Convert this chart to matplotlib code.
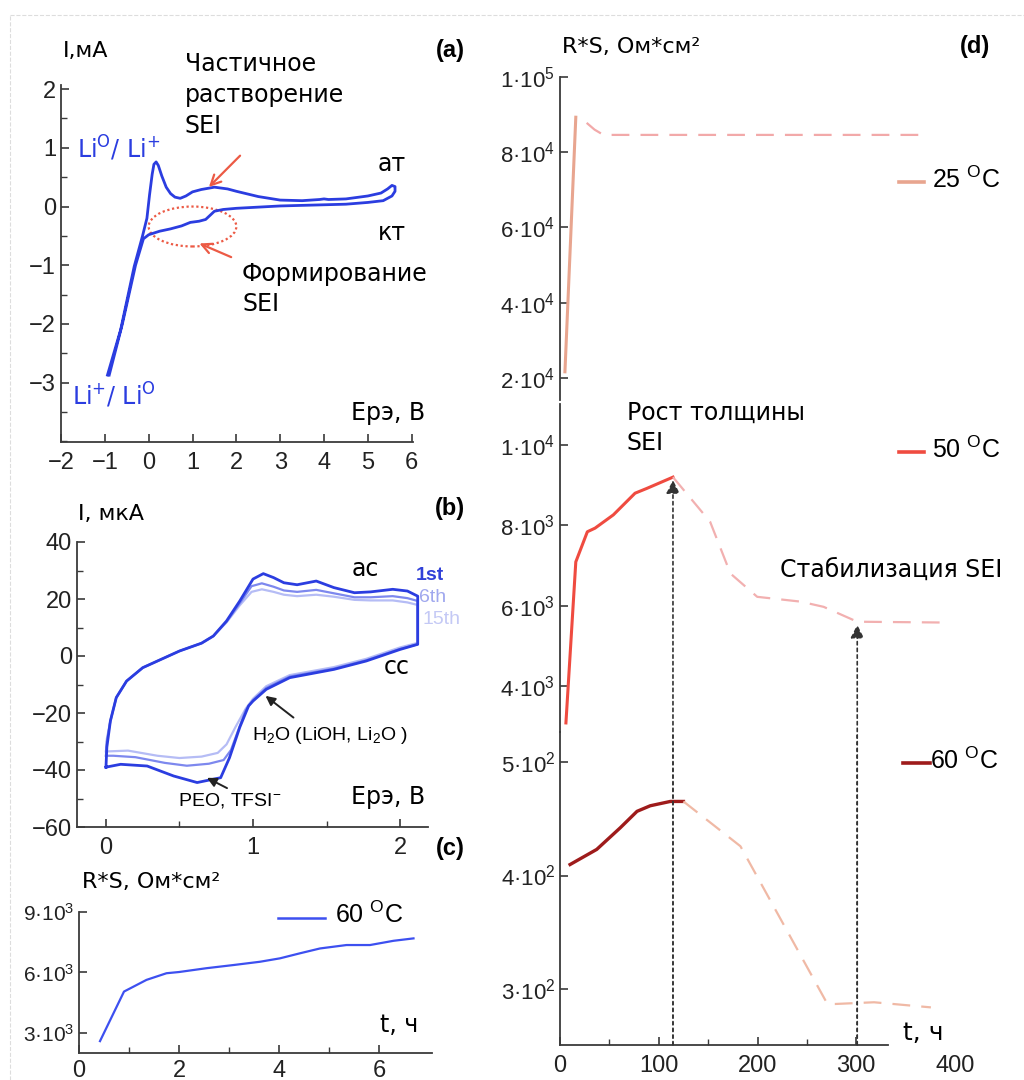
import matplotlib.pyplot as plt
import numpy as np
from matplotlib.patches import Ellipse, ConnectionPatch
from matplotlib.ticker import MultipleLocator, FixedLocator

plt.rcParams['font.family'] = ['Liberation Sans', 'DejaVu Sans']
plt.rcParams['mathtext.default'] = 'regular'

W, H = 1024, 1080
CYR = ['DejaVu Sans']

# (a) CV curve, I (mA) vs E (V)
a_E = [-0.94, -0.64, -0.33, -0.14, -0.04, 0.02, 0.08, 0.12, 0.17, 0.22, 0.3, 0.4, 0.5, 0.6, 0.72, 0.85,
       1.0, 1.2, 1.5, 1.8, 2.0, 2.5, 3.0, 3.5, 3.9, 4.0, 4.1, 4.5, 5.0, 5.3, 5.45, 5.55, 5.62, 5.62,
       5.55, 5.35, 5.0, 4.5, 4.0, 3.0, 2.0, 1.7, 1.5, 1.4, 1.3, 1.15, 0.95, 0.75, 0.5, 0.25, 0.0,
       -0.12, -0.3, -0.6, -0.9]
a_I = [-2.87, -2.1, -1.02, -0.5, -0.2, 0.2, 0.55, 0.72, 0.76, 0.7, 0.52, 0.33, 0.22, 0.16, 0.14, 0.18,
       0.25, 0.29, 0.33, 0.3, 0.26, 0.17, 0.11, 0.1, 0.12, 0.13, 0.12, 0.13, 0.18, 0.23, 0.3, 0.36, 0.34,
       0.26, 0.18, 0.1, 0.07, 0.04, 0.03, 0.01, -0.03, -0.05, -0.08, -0.15, -0.22, -0.25, -0.27, -0.33,
       -0.38, -0.42, -0.48, -0.55, -1.0, -2.0, -2.87]

# (b) CV cycles, I (uA) vs E (V)
b1_E = [0.0, 0.006, 0.03, 0.07, 0.14, 0.25, 0.5, 0.65, 0.73, 0.82, 0.91, 1.0, 1.07, 1.14, 1.21, 1.3,
        1.43, 1.55, 1.69, 1.8, 1.95, 2.05, 2.12, 2.12, 2.0, 1.77, 1.55, 1.25, 1.09, 1.0, 0.97, 0.91,
        0.84, 0.78, 0.62, 0.46, 0.28, 0.1, 0.0]
b1_I = [-39, -32, -22.8, -14.6, -8.8, -4.1, 1.75, 4.5, 7.0, 12.3, 19.3, 27.0, 28.9, 27.5, 25.7, 25.0,
        26.3, 24.0, 22.2, 22.5, 23.4, 22.8, 21.0, 4.1, 2.3, -1.75, -4.7, -7.6, -11.7, -15.8, -17.5, -25,
        -35.7, -42.7, -44.4, -42.1, -38.6, -38, -39]
b6_E = [0.0, 0.006, 0.03, 0.07, 0.14, 0.25, 0.5, 0.65, 0.73, 0.82, 0.91, 0.99, 1.06, 1.14, 1.21, 1.3,
        1.43, 1.55, 1.69, 1.8, 1.95, 2.05, 2.12, 2.12, 2.0, 1.77, 1.55, 1.25, 1.09, 1.0, 0.95, 0.9,
        0.85, 0.8, 0.7, 0.55, 0.4, 0.2, 0.05, 0.0]
b6_I = [-35, -30, -22.8, -14.6, -8.8, -4.1, 1.75, 4.5, 7.0, 12.0, 18.5, 24.5, 25.5, 24.3, 23.0, 22.5,
        23.2, 22.0, 20.6, 20.6, 21.0, 20.3, 19.3, 4.1, 2.5, -1.5, -4.4, -7.2, -11.2, -15.5, -19, -26,
        -33, -36.5, -37.8, -38.5, -37.5, -35.5, -35, -35]
b15_E = [0.0, 0.006, 0.03, 0.07, 0.14, 0.25, 0.5, 0.65, 0.73, 0.82, 0.91, 0.99, 1.06, 1.14, 1.21, 1.3,
         1.43, 1.55, 1.69, 1.8, 1.95, 2.05, 2.12, 2.12, 2.0, 1.77, 1.55, 1.25, 1.09, 1.0, 0.95, 0.88,
         0.82, 0.76, 0.65, 0.5, 0.35, 0.15, 0.0]
b15_I = [-33.5, -29, -22.8, -14.6, -8.8, -4.1, 1.75, 4.5, 7.0, 11.8, 17.8, 22.5, 23.4, 22.5, 21.5, 21.0,
         21.5, 20.8, 19.7, 19.5, 19.5, 18.8, 17.9, 4.6, 3.0, -1.0, -3.9, -6.7, -10.6, -15, -18.5, -25,
         -31, -34, -35.3, -35.8, -35, -33.2, -33.5]

# (c) R*S at 60 C vs t (h)
c_t = [0.42, 0.9, 1.35, 1.75, 2.0, 2.55, 3.1, 3.62, 4.02, 4.42, 4.82, 5.35, 5.82, 6.29, 6.69]
c_R = [2590, 5050, 5630, 5960, 6020, 6210, 6370, 6530, 6700, 6950, 7190, 7360, 7360, 7570, 7690]

# (d) R*S vs t (h) at 25, 50, 60 C: measured (solid) and trend (dashed)
d25_t = [5, 16]
d25_R = [21600, 89300]
d25_tt = [27, 35, 44, 120, 250, 372]
d25_RR = [87800, 86000, 84600, 84600, 84600, 84600]

d50_t = [6, 16, 27.7, 35.5, 54, 76, 88, 114.4]
d50_R = [3080, 7090, 7840, 7930, 8260, 8800, 8920, 9200]
d50_tt = [114.4, 152, 172.6, 199.7, 243.7, 267, 301, 387.5]
d50_RR = [9200, 8090, 6800, 6220, 6100, 5970, 5600, 5580]

d60_t = [10.2, 37.2, 61, 78, 91.4, 111.7, 125]
d60_R = [409.7, 423, 442, 456.5, 461.4, 465.2, 465.2]
d60_tt = [125, 182.7, 270.8, 279, 318, 375.6]
d60_RR = [465.2, 425.8, 287, 287, 288.5, 284]

arrow_t = [114.4, 301]
arrow_R = [9128, 5527]

BLUE = '#2b3de0'
ORANGE = '#ec5a45'
SPINE = '#3a3a3a'

fig = plt.figure(figsize=(W / 100, H / 100), dpi=100)


def axbox(l, t, r, b):
    return fig.add_axes([l / W, 1 - b / H, (r - l) / W, (b - t) / H])


def ftext(px, py, s, **kw):
    kw.setdefault('va', 'center')
    return fig.text(px / W, 1 - py / H, s, **kw)


def style(ax, left=True, bottom=True):
    for side in ['top', 'right']:
        ax.spines[side].set_visible(False)
    ax.spines['left'].set_visible(left)
    ax.spines['bottom'].set_visible(bottom)
    for s in ax.spines.values():
        s.set_color(SPINE)
        s.set_linewidth(1.3)
    ax.tick_params(which='major', direction='in', length=6, width=1.2, colors=SPINE,
                   labelsize=16, labelcolor='#222222')
    ax.tick_params(which='minor', direction='in', length=4, width=1.0, colors=SPINE)
    ax.patch.set_alpha(0)


def sci(m, e):
    return f'{m}·10$^{{{e}}}$'


def minus(vals):
    return [f'{v}'.replace('-', '−') for v in vals]


# faint frame of the screenshot
fig.add_artist(plt.Line2D([10 / W, 1], [1 - 15 / H] * 2, color='#dddddd', lw=0.8, ls='--'))
fig.add_artist(plt.Line2D([10 / W] * 2, [0, 1 - 15 / H], color='#dddddd', lw=0.8, ls='--'))

# ---------------- (a)
ax = axbox(61, 85, 413, 442)
style(ax)
ax.plot(a_E, a_I, color=BLUE, lw=2)
ax.set_xlim(-2, 6.03)
ax.set_ylim(-4.01, 2.07)
ax.set_xticks(range(-2, 7))
ax.set_xticklabels(minus(range(-2, 7)))
ax.set_yticks(range(-3, 3))
ax.set_yticklabels(minus(range(-3, 3)))
ax.yaxis.set_minor_locator(MultipleLocator(0.5))
ax.tick_params(axis='x', labelsize=17, pad=7)
ax.tick_params(axis='y', labelsize=17)
ax.add_patch(Ellipse((1.0, -0.34), 2.0, 0.68, fill=False, ec=ORANGE, lw=1.6, ls=(0, (1, 1.2))))
ax.annotate('', xy=(1.33, 0.30), xytext=(2.13, 0.9),
            arrowprops=dict(arrowstyle='->', color=ORANGE, lw=1.6, mutation_scale=18))
ax.annotate('', xy=(1.1, -0.61), xytext=(1.94, -0.88),
            arrowprops=dict(arrowstyle='->', color=ORANGE, lw=1.6, mutation_scale=18))

ftext(63, 51, 'I,мА', family=CYR, fontsize=16)
ftext(450, 50, '(a)', fontsize=17, weight='bold', ha='center')
ftext(185, 95, 'Частичное\nрастворение\nSEI', family=CYR, fontsize=17, linespacing=1.35)
ftext(77, 148, 'Li$^{O}$/ Li$^{+}$', family=CYR, fontsize=17, color=BLUE)
ftext(72, 396, 'Li$^{+}$/ Li$^{O}$', family=CYR, fontsize=17, color=BLUE)
ftext(378, 164, 'ат', family=CYR, fontsize=17)
ftext(378, 233, 'кт', family=CYR, fontsize=17)
ftext(242, 289, 'Формирование\nSEI', family=CYR, fontsize=17, linespacing=1.35)
ftext(425, 413, 'Ерэ, В', family=CYR, fontsize=17, ha='right')

# ---------------- (b)
ax = axbox(77, 542, 428, 827)
style(ax)
ax.plot(b15_E, b15_I, color='#b5bcf5', lw=1.6)
ax.plot(b6_E, b6_I, color='#7d88ee', lw=1.6)
ax.plot(b1_E, b1_I, color=BLUE, lw=2)
ax.set_xlim(-0.197, 2.19)
ax.set_ylim(-60, 40)
ax.set_xticks([0, 1, 2])
ax.set_yticks(range(-60, 41, 20))
ax.set_yticklabels(minus(range(-60, 41, 20)))
ax.xaxis.set_minor_locator(MultipleLocator(0.5))
ax.yaxis.set_minor_locator(MultipleLocator(10))
ax.tick_params(axis='y', labelsize=17)
ax.tick_params(axis='x', labelsize=17, pad=7)
ax.annotate('', xy=(1.07, -13.4), xytext=(1.29, -22.2),
            arrowprops=dict(arrowstyle='-|>', color='#222222', lw=1.4, mutation_scale=14))
ax.annotate('', xy=(0.67, -42.3), xytext=(0.84, -46.8),
            arrowprops=dict(arrowstyle='-|>', color='#222222', lw=1.4, mutation_scale=14))

ftext(78, 514, 'I, мкА', family=CYR, fontsize=16)
ftext(450, 508, '(b)', fontsize=17, weight='bold', ha='center')
ftext(352, 569, 'ас', family=CYR, fontsize=17)
ftext(416, 575, '1st', fontsize=14, color='#3040d8', weight='bold')
ftext(419, 597, '6th', fontsize=14, color='#a0a8ee')
ftext(422, 619, '15th', fontsize=14, color='#c4c9f5')
ftext(384, 667, 'сс', family=CYR, fontsize=17)
ftext(252, 736, 'H$_2$O (LiOH, Li$_2$O )', fontsize=14)
ftext(178, 800, 'PEO, TFSI$^{-}$', fontsize=14)
ftext(425, 797, 'Ерэ, В', family=CYR, fontsize=17, ha='right')

# ---------------- (c)
ax = axbox(79, 912, 432, 1053)
style(ax)
ax.plot(c_t, c_R, color='#3d50f0', lw=1.6)
ax.set_xlim(0, 7.06)
ax.set_ylim(2000, 9000)
ax.set_xticks([0, 2, 4, 6])
ax.xaxis.set_minor_locator(FixedLocator([1, 3, 5]))
ax.set_yticks([3000, 6000, 9000])
ax.set_yticklabels([sci(3, 3), sci(6, 3), sci(9, 3)])
ax.tick_params(axis='y', labelsize=15)
ax.tick_params(axis='x', labelsize=17, pad=5)

ftext(450, 848, '(c)', fontsize=17, weight='bold', ha='center')
ftext(82, 882, 'R*S, Ом*см²', family=CYR, fontsize=16)
fig.add_artist(plt.Line2D([278 / W, 325 / W], [1 - 918 / H] * 2, color='#3d50f0', lw=1.8))
ftext(335, 915, '60 $^{O}$C', fontsize=18)
ftext(380, 1025, 't, ч', family=CYR, fontsize=17)

# ---------------- (d) broken axis, three segments
ax_top = axbox(560, 77, 955, 400)
ax_mid = axbox(560, 404, 955, 732)
ax_bot = axbox(560, 732, 955, 1045)
for a in (ax_top, ax_mid):
    style(a, bottom=False)
    a.set_xticks([])
style(ax_bot)
for a in (ax_top, ax_mid, ax_bot):
    a.set_xlim(0, 400)
    a.tick_params(axis='y', labelsize=16)

ax_top.set_ylim(14100, 100000)
ax_top.set_yticks([20000, 40000, 60000, 80000, 100000])
ax_top.set_yticklabels([sci(2, 4), sci(4, 4), sci(6, 4), sci(8, 4), sci(1, 5)])
ax_top.plot(d25_t, d25_R, color='#e8a58f', lw=2.2)
ax_top.plot(d25_tt, d25_RR, color='#f2a9a9', lw=1.6, dashes=(8, 5))

ax_mid.set_ylim(2854, 11021)
ax_mid.set_yticks([4000, 6000, 8000, 10000])
ax_mid.set_yticklabels([sci(4, 3), sci(6, 3), sci(8, 3), sci(1, 4)])
ax_mid.plot(d50_t, d50_R, color='#ef4b40', lw=2.2)
ax_mid.plot(d50_tt, d50_RR, color='#f2b0b0', lw=1.6, dashes=(8, 5))

ax_bot.set_ylim(250.9, 526.3)
ax_bot.set_yticks([300, 400, 500])
ax_bot.set_yticklabels([sci(3, 2), sci(4, 2), sci(5, 2)])
ax_bot.plot(d60_t, d60_R, color='#9e1b1b', lw=2.4)
ax_bot.plot(d60_tt, d60_RR, color='#f0b9a5', lw=1.6, dashes=(8, 5))
ax_bot.spines['bottom'].set_bounds(0, 332)
ax_bot.set_xticks([0, 100, 200, 300, 400])
ax_bot.xaxis.set_minor_locator(FixedLocator([50, 150, 250]))
ax_bot.xaxis.get_major_ticks()[-1].tick1line.set_visible(False)
ax_bot.tick_params(axis='x', labelsize=17, pad=7)

for t, r in zip(arrow_t, arrow_R):
    ax_bot.axvline(t, color='#444444', lw=1.2, ls=(0, (2, 2)))
    con = ConnectionPatch(xyA=(t, 251), coordsA=ax_bot.transData,
                          xyB=(t, r), coordsB=ax_mid.transData,
                          arrowstyle='-|>', color='#333333', lw=1.2, ls=(0, (2, 2)),
                          mutation_scale=20)
    fig.add_artist(con)

ftext(562, 47, 'R*S, Ом*см²', family=CYR, fontsize=16)
ftext(975, 47, '(d)', fontsize=17, weight='bold', ha='center')
ftext(627, 413, 'Рост толщины', family=CYR, fontsize=17)
ftext(627, 443, 'SEI', family=CYR, fontsize=17)
ftext(780, 570, 'Стабилизация SEI', family=CYR, fontsize=17)
ftext(903, 1033, 't, ч', family=CYR, fontsize=18)

for y, c, x0, x1, tx, lab in [(182, '#e8a58f', 899, 924, 932, '25 $^{O}$C'),
                              (452, '#ef4b40', 899, 924, 932, '50 $^{O}$C'),
                              (763, '#9e1b1b', 903, 930, 930, '60 $^{O}$C')]:
    fig.add_artist(plt.Line2D([x0 / W, x1 / W], [1 - y / H] * 2, color=c, lw=2.6))
    ftext(tx, y - 2, lab, fontsize=18)

fig.savefig('out.png', dpi=100)
